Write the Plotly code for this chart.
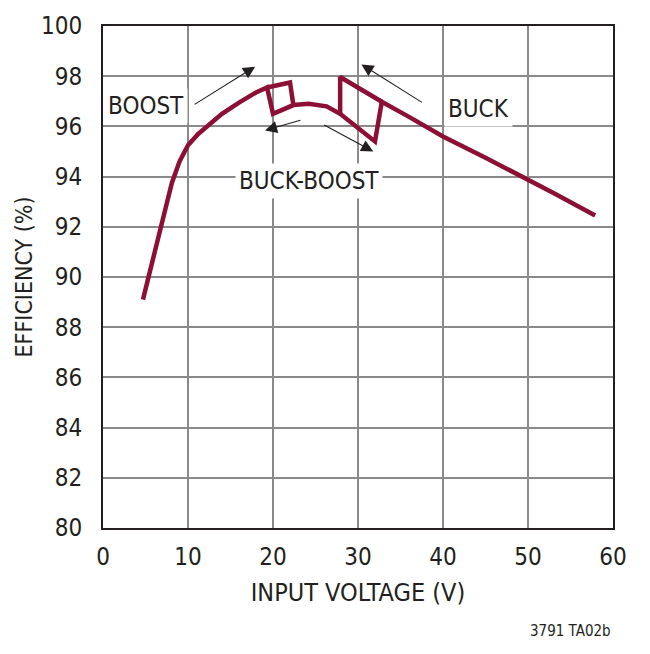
import plotly.graph_objects as go

# Efficiency curve (three strokes separated by None)
vin = [4.7, 6.5, 8.1, 9.0, 10.0, 11.2, 12.6, 14.0, 16.0, 18.0, 19.3, 20.0, 22.4, 24.2, 26.3, 27.9, 32.0, 32.8, 36.0, 40.0, 45.0, 50.0, 53.0, 57.9,
       None, 19.3, 22.0, 22.4,
       None, 27.9, 27.9, 32.8]
eff = [89.1, 91.5, 93.75, 94.6, 95.25, 95.7, 96.1, 96.5, 96.95, 97.35, 97.55, 96.5, 96.85, 96.9, 96.8, 96.5, 95.4, 96.98, 96.38, 95.6, 94.75, 93.9, 93.35, 92.45,
       None, 97.55, 97.75, 96.85,
       None, 96.5, 97.97, 96.98]

x_ticks = [0, 10, 20, 30, 40, 50, 60]
y_ticks = [80, 82, 84, 86, 88, 90, 92, 94, 96, 98, 100]

labels = ["BOOST", "BUCK-BOOST", "BUCK"]
label_x = [5.1, 24.2, 44.2]
label_y = [96.8, 93.83, 96.68]

# arrows: head (x, y) and tail (ax, ay)
arrow_x = [17.9, 19.06, 31.8, 30.4]
arrow_y = [98.38, 95.84, 95.0, 98.47]
arrow_ax = [10.6, 23.4, 25.85, 37.7]
arrow_ay = [96.84, 96.26, 96.09, 96.92]

FONT = "DejaVu Sans Condensed, sans-serif"
TXT = "#231f20"

fig = go.Figure()
fig.add_trace(go.Scatter(x=vin, y=eff, mode="lines",
                         line=dict(color="#8c0f35", width=4.5),
                         connectgaps=False, showlegend=False, hoverinfo="skip"))

for t, x, y in zip(labels, label_x, label_y):
    fig.add_annotation(x=x, y=y, text=t, showarrow=False, bgcolor="white",
                       font=dict(family=FONT, size=24, color=TXT), borderpad=3)

for x, y, ax, ay in zip(arrow_x, arrow_y, arrow_ax, arrow_ay):
    fig.add_annotation(x=x, y=y, ax=ax, ay=ay, axref="x", ayref="y", xref="x", yref="y",
                       text="", showarrow=True, arrowhead=2, arrowsize=2.2, arrowwidth=1.1,
                       arrowcolor=TXT, standoff=0, startstandoff=0)

fig.add_annotation(x=1.0, y=-0.205, xref="paper", yref="paper", xanchor="right", yanchor="middle",
                   text="3791 TA02b", showarrow=False, font=dict(family=FONT, size=15, color=TXT))

axis_common = dict(showline=True, linecolor="#231f20", linewidth=2, mirror=True,
                   showgrid=True, gridcolor="#8a8a8a", gridwidth=1.5, zeroline=False,
                   ticks="", tickfont=dict(family=FONT, size=24, color=TXT))

fig.update_xaxes(range=[0, 60], tickvals=x_ticks, ticktext=[str(v) for v in x_ticks],
                 ticklabelstandoff=6,
                 title=dict(text="INPUT VOLTAGE (V)", font=dict(family=FONT, size=25, color=TXT), standoff=14),
                 **axis_common)
fig.update_yaxes(range=[80, 100], tickvals=y_ticks, ticktext=[str(v) for v in y_ticks],
                 ticklabelstandoff=14,
                 title=dict(text="EFFICIENCY (%)", font=dict(family=FONT, size=23, color=TXT), standoff=2),
                 **axis_common)

fig.update_layout(width=650, height=654, margin=dict(l=103, r=37, t=22, b=126),
                  paper_bgcolor="white", plot_bgcolor="white", font=dict(family=FONT))

fig.write_html("out.html")
